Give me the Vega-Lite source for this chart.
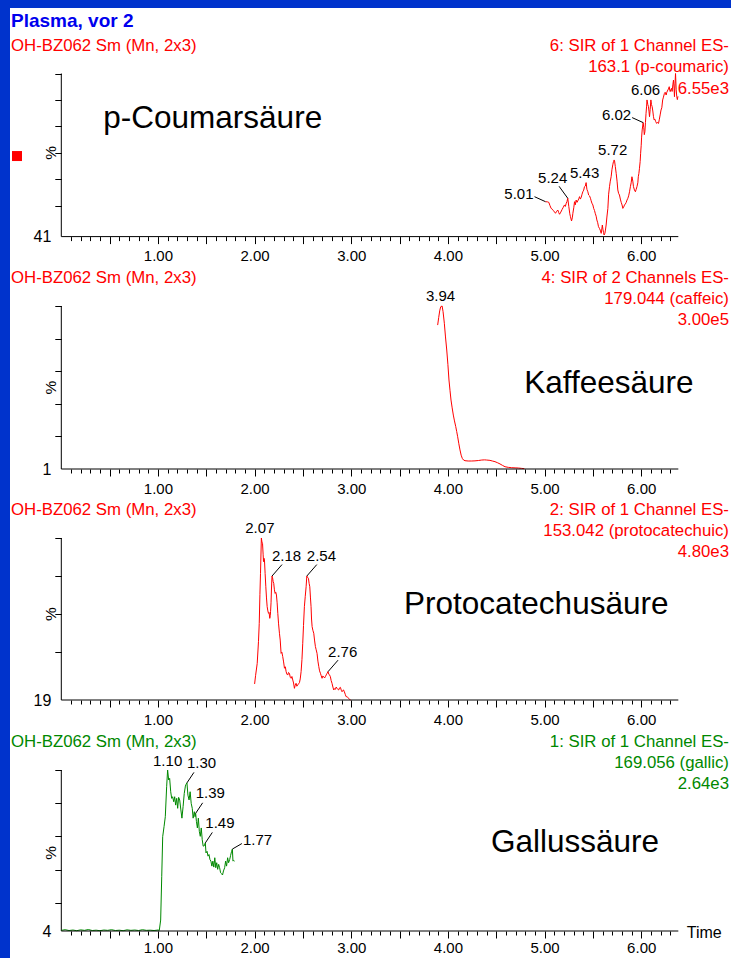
{
  "$schema": "https://vega.github.io/schema/vega-lite/v6.json",
  "background": "#0033cc",
  "padding": {"left": 10, "top": 8, "right": 0, "bottom": 0},
  "spacing": 0,
  "config": {
    "view": {"fill": "white", "stroke": null},
    "font": "Liberation Sans",
    "axis": {"labelFont": "Liberation Sans", "labelColor": "black", "tickColor": "black", "labelFontSize": 15, "tickWidth": 1}
  },
  "datasets": {
    "coumaric": [
      {"t":5.010,"v":21.4},{"t":5.030,"v":21.3},{"t":5.044,"v":21.0},{"t":5.056,"v":19.0},{"t":5.068,"v":17.3},{"t":5.080,"v":16.8},
      {"t":5.092,"v":15.9},{"t":5.104,"v":15.0},{"t":5.113,"v":14.3},{"t":5.125,"v":15.5},{"t":5.137,"v":16.3},{"t":5.146,"v":14.8},
      {"t":5.155,"v":13.7},{"t":5.168,"v":15.0},{"t":5.182,"v":16.7},{"t":5.194,"v":18.0},{"t":5.206,"v":19.4},{"t":5.215,"v":18.5},
      {"t":5.224,"v":20.4},{"t":5.232,"v":21.5},{"t":5.240,"v":23.5},{"t":5.251,"v":18.4},{"t":5.261,"v":14.0},{"t":5.268,"v":12.2},
      {"t":5.279,"v":9.6},{"t":5.287,"v":11.5},{"t":5.293,"v":14.3},{"t":5.303,"v":18.0},{"t":5.310,"v":21.4},{"t":5.318,"v":19.5},
      {"t":5.327,"v":22.4},{"t":5.336,"v":21.0},{"t":5.348,"v":22.4},{"t":5.356,"v":23.5},{"t":5.362,"v":24.5},{"t":5.370,"v":23.0},
      {"t":5.379,"v":24.0},{"t":5.388,"v":26.0},{"t":5.396,"v":27.5},{"t":5.405,"v":28.5},{"t":5.413,"v":30.6},{"t":5.422,"v":31.0},
      {"t":5.430,"v":33.1},{"t":5.438,"v":29.0},{"t":5.448,"v":27.5},{"t":5.456,"v":25.5},{"t":5.465,"v":25.0},{"t":5.475,"v":23.5},
      {"t":5.482,"v":22.0},{"t":5.490,"v":20.5},{"t":5.500,"v":19.4},{"t":5.508,"v":17.3},{"t":5.517,"v":16.0},{"t":5.524,"v":14.3},
      {"t":5.534,"v":12.5},{"t":5.541,"v":10.2},{"t":5.550,"v":8.5},{"t":5.558,"v":6.1},{"t":5.568,"v":5.0},{"t":5.576,"v":4.0},
      {"t":5.586,"v":2.0},{"t":5.591,"v":4.0},{"t":5.598,"v":7.1},{"t":5.604,"v":4.5},{"t":5.610,"v":2.5},{"t":5.616,"v":1.0},
      {"t":5.624,"v":2.0},{"t":5.630,"v":4.0},{"t":5.637,"v":7.1},{"t":5.645,"v":12.0},{"t":5.655,"v":17.3},{"t":5.663,"v":26.0},
      {"t":5.672,"v":30.6},{"t":5.680,"v":34.0},{"t":5.689,"v":36.7},{"t":5.697,"v":41.0},{"t":5.706,"v":44.0},{"t":5.713,"v":46.0},
      {"t":5.720,"v":47.0},{"t":5.724,"v":46.5},{"t":5.732,"v":43.0},{"t":5.741,"v":38.8},{"t":5.750,"v":34.0},{"t":5.758,"v":28.6},
      {"t":5.766,"v":26.5},{"t":5.775,"v":25.5},{"t":5.784,"v":23.0},{"t":5.793,"v":21.0},{"t":5.802,"v":19.4},{"t":5.810,"v":17.3},
      {"t":5.818,"v":18.0},{"t":5.827,"v":19.4},{"t":5.836,"v":20.0},{"t":5.845,"v":21.0},{"t":5.853,"v":22.4},{"t":5.862,"v":23.5},
      {"t":5.870,"v":25.0},{"t":5.879,"v":27.5},{"t":5.888,"v":30.6},{"t":5.896,"v":33.0},{"t":5.904,"v":36.7},{"t":5.913,"v":34.0},
      {"t":5.920,"v":30.6},{"t":5.930,"v":28.6},{"t":5.940,"v":27.5},{"t":5.948,"v":29.0},{"t":5.956,"v":30.6},{"t":5.965,"v":33.0},
      {"t":5.970,"v":36.7},{"t":5.976,"v":38.8},{"t":5.982,"v":41.9},{"t":5.989,"v":46.0},{"t":5.994,"v":51.1},{"t":6.000,"v":56.0},
      {"t":6.004,"v":61.0},{"t":6.010,"v":65.4},{"t":6.020,"v":69.9},{"t":6.026,"v":67.0},{"t":6.032,"v":62.5},{"t":6.038,"v":64.3},
      {"t":6.044,"v":70.0},{"t":6.050,"v":75.6},{"t":6.056,"v":80.0},{"t":6.060,"v":83.8},{"t":6.068,"v":81.0},{"t":6.075,"v":79.7},
      {"t":6.081,"v":76.5},{"t":6.086,"v":73.5},{"t":6.093,"v":78.0},{"t":6.100,"v":83.8},{"t":6.106,"v":81.0},{"t":6.113,"v":79.7},
      {"t":6.120,"v":77.0},{"t":6.127,"v":73.5},{"t":6.134,"v":71.5},{"t":6.141,"v":72.0},{"t":6.150,"v":70.5},{"t":6.160,"v":69.4},
      {"t":6.168,"v":70.0},{"t":6.179,"v":69.4},{"t":6.188,"v":72.0},{"t":6.196,"v":74.6},{"t":6.205,"v":77.6},{"t":6.213,"v":79.0},
      {"t":6.222,"v":83.8},{"t":6.230,"v":85.5},{"t":6.240,"v":87.8},{"t":6.248,"v":88.5},{"t":6.258,"v":86.8},{"t":6.265,"v":88.5},
      {"t":6.276,"v":89.9},{"t":6.282,"v":90.5},{"t":6.290,"v":91.9},{"t":6.296,"v":89.5},{"t":6.300,"v":88.9},{"t":6.306,"v":90.0},
      {"t":6.313,"v":90.9},{"t":6.320,"v":89.0},{"t":6.327,"v":93.0},{"t":6.334,"v":96.0},{"t":6.340,"v":91.0},{"t":6.344,"v":85.8},
      {"t":6.350,"v":94.0},{"t":6.355,"v":100.0},{"t":6.362,"v":90.0},{"t":6.368,"v":85.8},{"t":6.374,"v":84.0},{"t":6.380,"v":86.0}
    ],
    "caffeic": [
      {"t":3.894,"v":88.3},{"t":3.905,"v":93.0},{"t":3.915,"v":97.0},{"t":3.925,"v":99.5},{"t":3.940,"v":100.0},{"t":3.950,"v":96.5},
      {"t":3.963,"v":89.4},{"t":3.975,"v":81.0},{"t":3.988,"v":73.0},{"t":4.000,"v":64.0},{"t":4.011,"v":54.6},{"t":4.022,"v":48.0},
      {"t":4.032,"v":42.3},{"t":4.044,"v":37.5},{"t":4.056,"v":33.1},{"t":4.068,"v":29.5},{"t":4.081,"v":26.0},{"t":4.091,"v":23.0},
      {"t":4.101,"v":19.8},{"t":4.113,"v":15.5},{"t":4.125,"v":11.7},{"t":4.137,"v":8.5},{"t":4.149,"v":6.5},{"t":4.162,"v":5.5},
      {"t":4.177,"v":5.1},{"t":4.210,"v":4.9},{"t":4.246,"v":4.9},{"t":4.280,"v":5.0},{"t":4.315,"v":5.2},{"t":4.350,"v":5.5},
      {"t":4.380,"v":5.6},{"t":4.401,"v":5.5},{"t":4.435,"v":5.3},{"t":4.460,"v":4.9},{"t":4.487,"v":4.5},{"t":4.515,"v":3.8},
      {"t":4.539,"v":3.1},{"t":4.565,"v":2.2},{"t":4.591,"v":1.4},{"t":4.625,"v":1.0},{"t":4.660,"v":0.8},{"t":4.695,"v":0.7},
      {"t":4.729,"v":0.6},{"t":4.760,"v":0.4},{"t":4.791,"v":0.2}
    ],
    "protocatechuic": [
      {"t":2.000,"v":9.9},{"t":2.010,"v":15.0},{"t":2.027,"v":22.6},{"t":2.040,"v":36.0},{"t":2.048,"v":47.3},{"t":2.055,"v":65.0},
      {"t":2.061,"v":78.2},{"t":2.070,"v":100.0},{"t":2.076,"v":97.5},{"t":2.082,"v":96.7},{"t":2.088,"v":90.0},{"t":2.092,"v":85.4},
      {"t":2.097,"v":87.5},{"t":2.102,"v":86.4},{"t":2.109,"v":78.0},{"t":2.116,"v":69.9},{"t":2.123,"v":63.0},{"t":2.130,"v":57.6},
      {"t":2.137,"v":55.0},{"t":2.144,"v":53.5},{"t":2.150,"v":54.0},{"t":2.157,"v":50.4},{"t":2.162,"v":52.0},{"t":2.165,"v":54.5},
      {"t":2.170,"v":60.0},{"t":2.174,"v":67.9},{"t":2.180,"v":76.5},{"t":2.186,"v":75.5},{"t":2.192,"v":73.0},{"t":2.198,"v":72.0},
      {"t":2.205,"v":68.0},{"t":2.212,"v":65.8},{"t":2.219,"v":66.5},{"t":2.226,"v":64.8},{"t":2.233,"v":60.0},{"t":2.240,"v":53.5},
      {"t":2.248,"v":47.0},{"t":2.257,"v":41.2},{"t":2.265,"v":37.0},{"t":2.274,"v":28.8},{"t":2.282,"v":29.5},{"t":2.291,"v":26.8},
      {"t":2.300,"v":23.5},{"t":2.309,"v":19.6},{"t":2.318,"v":20.5},{"t":2.326,"v":17.5},{"t":2.334,"v":16.0},{"t":2.343,"v":15.4},
      {"t":2.351,"v":17.0},{"t":2.360,"v":16.5},{"t":2.369,"v":14.0},{"t":2.378,"v":13.4},{"t":2.386,"v":14.5},{"t":2.395,"v":12.3},
      {"t":2.403,"v":10.5},{"t":2.412,"v":7.2},{"t":2.420,"v":9.0},{"t":2.429,"v":10.3},{"t":2.437,"v":8.5},{"t":2.446,"v":9.3},
      {"t":2.455,"v":10.0},{"t":2.464,"v":10.7},{"t":2.472,"v":13.0},{"t":2.481,"v":17.5},{"t":2.490,"v":25.0},{"t":2.498,"v":35.0},
      {"t":2.506,"v":46.0},{"t":2.515,"v":57.6},{"t":2.524,"v":64.0},{"t":2.533,"v":69.9},{"t":2.540,"v":76.5},{"t":2.547,"v":75.8},
      {"t":2.557,"v":75.1},{"t":2.564,"v":72.0},{"t":2.571,"v":69.9},{"t":2.578,"v":63.0},{"t":2.584,"v":57.6},{"t":2.589,"v":50.0},
      {"t":2.595,"v":45.3},{"t":2.603,"v":43.0},{"t":2.612,"v":41.2},{"t":2.620,"v":37.0},{"t":2.629,"v":33.0},{"t":2.637,"v":31.0},
      {"t":2.646,"v":28.8},{"t":2.655,"v":24.0},{"t":2.664,"v":20.6},{"t":2.672,"v":18.0},{"t":2.681,"v":16.5},{"t":2.689,"v":15.0},
      {"t":2.698,"v":13.4},{"t":2.706,"v":14.8},{"t":2.715,"v":14.4},{"t":2.724,"v":13.6},{"t":2.732,"v":14.4},{"t":2.741,"v":15.5},
      {"t":2.750,"v":16.5},{"t":2.760,"v":17.5},{"t":2.767,"v":16.0},{"t":2.775,"v":15.5},{"t":2.784,"v":14.4},{"t":2.792,"v":12.0},
      {"t":2.801,"v":10.3},{"t":2.810,"v":8.0},{"t":2.819,"v":6.2},{"t":2.827,"v":7.0},{"t":2.836,"v":6.6},{"t":2.844,"v":8.0},
      {"t":2.853,"v":7.2},{"t":2.862,"v":6.5},{"t":2.870,"v":6.2},{"t":2.879,"v":7.5},{"t":2.888,"v":7.8},{"t":2.897,"v":6.0},
      {"t":2.905,"v":5.1},{"t":2.914,"v":6.0},{"t":2.920,"v":6.2},{"t":2.929,"v":5.0},{"t":2.938,"v":3.5},{"t":2.946,"v":2.1},
      {"t":2.955,"v":2.0},{"t":2.964,"v":1.6},{"t":2.975,"v":1.0},{"t":2.985,"v":0.2},{"t":2.993,"v":0.0}
    ],
    "gallic": [
      {"t":0.00,"v":0.4},{"t":0.04,"v":0.8},{"t":0.08,"v":0.3},{"t":0.12,"v":0.6},{"t":0.16,"v":0.2},{"t":0.20,"v":0.7},
      {"t":0.24,"v":0.4},{"t":0.28,"v":0.9},{"t":0.32,"v":0.3},{"t":0.36,"v":0.5},{"t":0.40,"v":0.2},{"t":0.44,"v":0.6},
      {"t":0.48,"v":0.4},{"t":0.52,"v":0.8},{"t":0.56,"v":0.3},{"t":0.60,"v":0.5},{"t":0.64,"v":0.2},{"t":0.68,"v":0.7},
      {"t":0.72,"v":0.4},{"t":0.76,"v":0.6},{"t":0.80,"v":0.3},{"t":0.84,"v":0.8},{"t":0.88,"v":0.4},{"t":0.92,"v":0.5},
      {"t":0.96,"v":0.3},{"t":1.000,"v":0.6},{"t":1.014,"v":0.4},
      {"t":1.028,"v":6.8},{"t":1.039,"v":33.7},{"t":1.049,"v":58.6},{"t":1.063,"v":64.8},{"t":1.076,"v":71.0},{"t":1.090,"v":89.6},
      {"t":1.100,"v":100.0},{"t":1.111,"v":93.8},{"t":1.121,"v":94.8},{"t":1.132,"v":86.5},{"t":1.142,"v":82.4},{"t":1.152,"v":83.4},
      {"t":1.163,"v":80.3},{"t":1.173,"v":83.4},{"t":1.183,"v":78.2},{"t":1.194,"v":82.4},{"t":1.204,"v":76.2},{"t":1.214,"v":83.0},
      {"t":1.225,"v":81.4},{"t":1.237,"v":75.2},{"t":1.248,"v":70.1},{"t":1.260,"v":77.2},{"t":1.272,"v":85.4},{"t":1.284,"v":90.0},
      {"t":1.290,"v":91.0},{"t":1.300,"v":92.0},{"t":1.310,"v":84.4},{"t":1.322,"v":81.4},{"t":1.333,"v":86.5},{"t":1.344,"v":79.3},
      {"t":1.355,"v":76.2},{"t":1.364,"v":70.1},{"t":1.376,"v":74.1},{"t":1.384,"v":71.0},{"t":1.390,"v":73.1},{"t":1.398,"v":68.1},
      {"t":1.408,"v":64.0},{"t":1.418,"v":70.1},{"t":1.428,"v":61.9},{"t":1.438,"v":58.8},{"t":1.448,"v":64.0},{"t":1.458,"v":56.7},
      {"t":1.468,"v":52.7},{"t":1.480,"v":53.0},{"t":1.490,"v":54.7},{"t":1.497,"v":48.5},{"t":1.508,"v":49.5},{"t":1.518,"v":46.5},
      {"t":1.528,"v":47.5},{"t":1.538,"v":44.4},{"t":1.548,"v":43.4},{"t":1.558,"v":40.3},{"t":1.568,"v":43.4},{"t":1.578,"v":39.7},
      {"t":1.588,"v":45.5},{"t":1.598,"v":39.3},{"t":1.608,"v":42.4},{"t":1.618,"v":38.3},{"t":1.628,"v":41.4},{"t":1.638,"v":39.3},
      {"t":1.648,"v":36.2},{"t":1.658,"v":35.6},{"t":1.668,"v":34.8},{"t":1.678,"v":37.3},{"t":1.690,"v":39.3},{"t":1.700,"v":43.4},
      {"t":1.710,"v":40.3},{"t":1.721,"v":45.5},{"t":1.731,"v":42.4},{"t":1.742,"v":44.4},{"t":1.752,"v":47.0},{"t":1.762,"v":49.5},
      {"t":1.770,"v":50.9},{"t":1.776,"v":43.4},{"t":1.783,"v":43.8},{"t":1.793,"v":43.4}
    ],
    "peaks": [
      {"panel":1,"t":5.01,"v":21.4,"kind":"w"},
      {"panel":1,"t":5.24,"v":23.5,"kind":"nw"},
      {"panel":1,"t":5.43,"v":33.1,"kind":"top"},
      {"panel":1,"t":5.72,"v":47.0,"kind":"top"},
      {"panel":1,"t":6.02,"v":69.9,"kind":"w"},
      {"panel":1,"t":6.06,"v":83.8,"kind":"top"},
      {"panel":2,"t":3.94,"v":100.0,"kind":"top"},
      {"panel":3,"t":2.07,"v":100.0,"kind":"top"},
      {"panel":3,"t":2.18,"v":76.5,"kind":"ne"},
      {"panel":3,"t":2.54,"v":76.5,"kind":"ne"},
      {"panel":3,"t":2.76,"v":17.5,"kind":"ne"},
      {"panel":4,"t":1.10,"v":100.0,"kind":"top"},
      {"panel":4,"t":1.30,"v":92.0,"kind":"ne"},
      {"panel":4,"t":1.39,"v":73.1,"kind":"ne"},
      {"panel":4,"t":1.49,"v":54.7,"kind":"ne"},
      {"panel":4,"t":1.77,"v":50.9,"kind":"e"}
    ]
  },
  "vconcat": [
    {
      "width": 721, "height": 257,
      "resolve": {"axis": {"x": "independent"}},
      "layer": [
        {
          "layer": [
            {
              "data": {"values": [{}]},
              "mark": {"type": "rule", "color": "black", "strokeWidth": 1},
              "encoding": {
                "x": {"datum": 0, "type": "quantitative",
                  "scale": {"domain": [-0.5308, 6.929], "nice": false, "zero": false},
                  "axis": {"orient": "bottom", "offset": -28.4, "domain": false, "grid": false, "title": null,
                    "values": [0.5,1,1.5,2,2.5,3,3.5,4,4.5,5,5.5,6],
                    "tickSize": 7,
                    "labelExpr": "datum.value % 1 == 0 ? format(datum.value, '.2f') : ''",
                    "labelPadding": 5.2, "labelOverlap": false, "labelFlush": false}},
                "y": {"datum": 0, "type": "quantitative",
                  "scale": {"domain": [-17.41, 140.16], "nice": false, "zero": false},
                  "axis": {"orient": "left", "offset": -51.3, "domain": false, "grid": false, "title": null,
                    "values": [0, 19.0, 35.2, 51.4, 67.6, 83.8, 100],
                    "tickSize": 6.5,
                    "tickColor": {"condition": {"test": "datum.value == 0", "value": "transparent"}, "value": "black"},
                    "labelExpr": "datum.value == 0 ? '41' : ''", "labelFontSize": 16,
                    "labelPadding": 4, "labelOverlap": false, "labelFlush": false, "labelBaseline": "middle"}},
                "y2": {"datum": 100}
              }
            },
            {
              "data": {"name": "coumaric"},
              "mark": {"type": "line", "color": "#ff0000", "strokeWidth": 1},
              "encoding": {"x": {"field": "t", "type": "quantitative"}, "y": {"field": "v", "type": "quantitative"}}
            },
            {
              "data": {"name": "peaks"},
              "transform": [{"filter": "datum.panel == 1 && datum.kind == 'top'"}],
              "mark": {"type": "text", "align": "center", "baseline": "alphabetic", "dx": -1.5, "dy": -4.5, "fontSize": 15, "color": "black"},
              "encoding": {"x": {"field": "t", "type": "quantitative"}, "y": {"field": "v", "type": "quantitative"}, "text": {"field": "t", "type": "quantitative", "format": ".2f"}}
            },
            {
              "data": {"name": "peaks"},
              "transform": [{"filter": "datum.panel == 1 && datum.kind == 'w'"}],
              "mark": {"type": "text", "align": "right", "baseline": "alphabetic", "dx": -12, "dy": -3, "fontSize": 15, "color": "black"},
              "encoding": {"x": {"field": "t", "type": "quantitative"}, "y": {"field": "v", "type": "quantitative"}, "text": {"field": "t", "type": "quantitative", "format": ".2f"}}
            },
            {
              "data": {"name": "peaks"},
              "transform": [{"filter": "datum.panel == 1 && datum.kind == 'w'"}],
              "mark": {"type": "rule", "color": "black", "strokeWidth": 1, "x2Offset": -11, "y2Offset": -5},
              "encoding": {"x": {"field": "t", "type": "quantitative"}, "y": {"field": "v", "type": "quantitative"}, "x2": {"field": "t"}, "y2": {"field": "v"}}
            },
            {
              "data": {"name": "peaks"},
              "transform": [{"filter": "datum.panel == 1 && datum.kind == 'nw'"}],
              "mark": {"type": "text", "align": "right", "baseline": "alphabetic", "dx": -0.5, "dy": -15, "fontSize": 15, "color": "black"},
              "encoding": {"x": {"field": "t", "type": "quantitative"}, "y": {"field": "v", "type": "quantitative"}, "text": {"field": "t", "type": "quantitative", "format": ".2f"}}
            },
            {
              "data": {"name": "peaks"},
              "transform": [{"filter": "datum.panel == 1 && datum.kind == 'nw'"}],
              "mark": {"type": "rule", "color": "black", "strokeWidth": 1, "x2Offset": -8.7, "y2Offset": -12},
              "encoding": {"x": {"field": "t", "type": "quantitative"}, "y": {"field": "v", "type": "quantitative"}, "x2": {"field": "t"}, "y2": {"field": "v"}}
            },
            {
              "data": {"values": [{"s": "Plasma, vor 2"}]},
              "mark": {"type": "text", "align": "left", "baseline": "alphabetic", "fontSize": 19, "fontWeight": "bold", "color": "#0000ee"},
              "encoding": {"x": {"datum": -0.5204}, "y": {"datum": 128.7}, "text": {"field": "s"}}
            },
            {
              "data": {"values": [{"s": "OH-BZ062 Sm (Mn, 2x3)"}]},
              "mark": {"type": "text", "align": "left", "baseline": "alphabetic", "fontSize": 16.8, "color": "#ff0000"},
              "encoding": {"x": {"datum": -0.5204}, "y": {"datum": 114.1}, "text": {"field": "s"}}
            },
            {
              "data": {"values": [{"s": "6: SIR of 1 Channel ES-\u00a0\n163.1 (p-coumaric)\n6.55e3"}]},
              "mark": {"type": "text", "align": "right", "baseline": "alphabetic", "lineBreak": "\n", "lineHeight": 21.5, "fontSize": 16.8, "color": "#ff0000"},
              "encoding": {"x": {"datum": 6.908}, "y": {"datum": 114.1}, "text": {"field": "s"}}
            },
            {
              "data": {"values": [{"s": "p-Coumarsäure"}]},
              "mark": {"type": "text", "align": "left", "baseline": "alphabetic", "fontSize": 31.5, "color": "black"},
              "encoding": {"x": {"datum": 0.4346}, "y": {"datum": 66.4}, "text": {"field": "s"}}
            },
            {
              "data": {"values": [{"s": "%"}]},
              "mark": {"type": "text", "align": "center", "baseline": "middle", "angle": 270, "fontSize": 15.5, "color": "black"},
              "encoding": {"x": {"datum": -0.1117}, "y": {"datum": 51.4}, "text": {"field": "s"}}
            },
            {
              "data": {"values": [{}]},
              "mark": {"type": "point", "shape": "square", "filled": true, "size": 100, "color": "#ff0000", "opacity": 1},
              "encoding": {"x": {"datum": -0.4584}, "y": {"datum": 49.4}}
            }
          ]
        },
        {
          "data": {"values": [{}]},
          "mark": {"type": "rule", "color": "black", "strokeWidth": 1},
          "encoding": {
            "x": {"datum": 0, "type": "quantitative",
              "axis": {"orient": "bottom", "offset": -28.4, "domain": false, "grid": false, "title": null, "labels": false, "tickSize": 4,
                "values": [0.1,0.2,0.3,0.4,0.6,0.7,0.8,0.9,1.1,1.2,1.3,1.4,1.6,1.7,1.8,1.9,2.1,2.2,2.3,2.4,2.6,2.7,2.8,2.9,3.1,3.2,3.3,3.4,3.6,3.7,3.8,3.9,4.1,4.2,4.3,4.4,4.6,4.7,4.8,4.9,5.1,5.2,5.3,5.4,5.6,5.7,5.8,5.9,6.1,6.2,6.3]}},
            "x2": {"datum": 6.384},
            "y": {"datum": 0, "type": "quantitative"}
          }
        }
      ]
    },
    {
      "width": 721, "height": 233,
      "resolve": {"axis": {"x": "independent"}},
      "layer": [
        {
          "layer": [
            {
              "data": {"values": [{}]},
              "mark": {"type": "rule", "color": "black", "strokeWidth": 1},
              "encoding": {
                "x": {"datum": 0, "type": "quantitative",
                  "scale": {"domain": [-0.5308, 6.929], "nice": false, "zero": false},
                  "axis": {"orient": "bottom", "offset": -29, "domain": false, "grid": false, "title": null,
                    "values": [0.5,1,1.5,2,2.5,3,3.5,4,4.5,5,5.5,6],
                    "tickSize": 7,
                    "labelExpr": "datum.value % 1 == 0 ? format(datum.value, '.2f') : ''",
                    "labelPadding": 5.2, "labelOverlap": false, "labelFlush": false}},
                "y": {"datum": 0, "type": "quantitative",
                  "scale": {"domain": [-17.79, 125.15], "nice": false, "zero": false},
                  "axis": {"orient": "left", "offset": -51.3, "domain": false, "grid": false, "title": null,
                    "values": [0, 10, 20, 30, 40, 50, 60, 70, 80, 90, 100],
                    "tickSize": 6.5,
                    "tickColor": {"condition": {"test": "datum.value == 0", "value": "transparent"}, "value": "black"},
                    "labelExpr": "datum.value == 0 ? '1' : ''", "labelFontSize": 16,
                    "labelPadding": 4, "labelOverlap": false, "labelFlush": false, "labelBaseline": "middle"}},
                "y2": {"datum": 100}
              }
            },
            {
              "data": {"name": "caffeic"},
              "mark": {"type": "line", "color": "#ff0000", "strokeWidth": 1},
              "encoding": {"x": {"field": "t", "type": "quantitative"}, "y": {"field": "v", "type": "quantitative"}}
            },
            {
              "data": {"name": "peaks"},
              "transform": [{"filter": "datum.panel == 2 && datum.kind == 'top'"}],
              "mark": {"type": "text", "align": "center", "baseline": "alphabetic", "dx": -1.5, "dy": -4.5, "fontSize": 15, "color": "black"},
              "encoding": {"x": {"field": "t", "type": "quantitative"}, "y": {"field": "v", "type": "quantitative"}, "text": {"field": "t", "type": "quantitative", "format": ".2f"}}
            },
            {
              "data": {"values": [{"s": "OH-BZ062 Sm (Mn, 2x3)"}]},
              "mark": {"type": "text", "align": "left", "baseline": "alphabetic", "fontSize": 16.8, "color": "#ff0000"},
              "encoding": {"x": {"datum": -0.5204}, "y": {"datum": 114.4}, "text": {"field": "s"}}
            },
            {
              "data": {"values": [{"s": "4: SIR of 2 Channels ES-\u00a0\n179.044 (caffeic)\n3.00e5"}]},
              "mark": {"type": "text", "align": "right", "baseline": "alphabetic", "lineBreak": "\n", "lineHeight": 21, "fontSize": 16.8, "color": "#ff0000"},
              "encoding": {"x": {"datum": 6.908}, "y": {"datum": 114.4}, "text": {"field": "s"}}
            },
            {
              "data": {"values": [{"s": "Kaffeesäure"}]},
              "mark": {"type": "text", "align": "left", "baseline": "alphabetic", "fontSize": 31.5, "color": "black"},
              "encoding": {"x": {"datum": 4.79}, "y": {"datum": 46.8}, "text": {"field": "s"}}
            },
            {
              "data": {"values": [{"s": "%"}]},
              "mark": {"type": "text", "align": "center", "baseline": "middle", "angle": 270, "fontSize": 15.5, "color": "black"},
              "encoding": {"x": {"datum": -0.1117}, "y": {"datum": 50}, "text": {"field": "s"}}
            }
          ]
        },
        {
          "data": {"values": [{}]},
          "mark": {"type": "rule", "color": "black", "strokeWidth": 1},
          "encoding": {
            "x": {"datum": 0, "type": "quantitative",
              "axis": {"orient": "bottom", "offset": -29, "domain": false, "grid": false, "title": null, "labels": false, "tickSize": 4,
                "values": [0.1,0.2,0.3,0.4,0.6,0.7,0.8,0.9,1.1,1.2,1.3,1.4,1.6,1.7,1.8,1.9,2.1,2.2,2.3,2.4,2.6,2.7,2.8,2.9,3.1,3.2,3.3,3.4,3.6,3.7,3.8,3.9,4.1,4.2,4.3,4.4,4.6,4.7,4.8,4.9,5.1,5.2,5.3,5.4,5.6,5.7,5.8,5.9,6.1,6.2,6.3]}},
            "x2": {"datum": 6.384},
            "y": {"datum": 0, "type": "quantitative"}
          }
        }
      ]
    },
    {
      "width": 721, "height": 231,
      "resolve": {"axis": {"x": "independent"}},
      "layer": [
        {
          "layer": [
            {
              "data": {"values": [{}]},
              "mark": {"type": "rule", "color": "black", "strokeWidth": 1},
              "encoding": {
                "x": {"datum": 0, "type": "quantitative",
                  "scale": {"domain": [-0.5308, 6.929], "nice": false, "zero": false},
                  "axis": {"orient": "bottom", "offset": -29, "domain": false, "grid": false, "title": null,
                    "values": [0.5,1,1.5,2,2.5,3,3.5,4,4.5,5,5.5,6],
                    "tickSize": 7,
                    "labelExpr": "datum.value % 1 == 0 ? format(datum.value, '.2f') : ''",
                    "labelPadding": 5.2, "labelOverlap": false, "labelFlush": false}},
                "y": {"datum": 0, "type": "quantitative",
                  "scale": {"domain": [-17.90, 124.69], "nice": false, "zero": false},
                  "axis": {"orient": "left", "offset": -51.3, "domain": false, "grid": false, "title": null,
                    "values": [0, 17.75, 29.5, 41.25, 53, 64.75, 76.5, 88.25, 100],
                    "tickSize": 6.5,
                    "tickColor": {"condition": {"test": "datum.value == 0", "value": "transparent"}, "value": "black"},
                    "labelExpr": "datum.value == 0 ? '19' : ''", "labelFontSize": 16,
                    "labelPadding": 4, "labelOverlap": false, "labelFlush": false, "labelBaseline": "middle"}},
                "y2": {"datum": 100}
              }
            },
            {
              "data": {"name": "protocatechuic"},
              "mark": {"type": "line", "color": "#ff0000", "strokeWidth": 1},
              "encoding": {"x": {"field": "t", "type": "quantitative"}, "y": {"field": "v", "type": "quantitative"}}
            },
            {
              "data": {"name": "peaks"},
              "transform": [{"filter": "datum.panel == 3 && datum.kind == 'top'"}],
              "mark": {"type": "text", "align": "center", "baseline": "alphabetic", "dx": -1.5, "dy": -4.5, "fontSize": 15, "color": "black"},
              "encoding": {"x": {"field": "t", "type": "quantitative"}, "y": {"field": "v", "type": "quantitative"}, "text": {"field": "t", "type": "quantitative", "format": ".2f"}}
            },
            {
              "data": {"name": "peaks"},
              "transform": [{"filter": "datum.panel == 3 && datum.kind == 'ne'"}],
              "mark": {"type": "text", "align": "left", "baseline": "alphabetic", "dx": 0, "dy": -15, "fontSize": 15, "color": "black"},
              "encoding": {"x": {"field": "t", "type": "quantitative"}, "y": {"field": "v", "type": "quantitative"}, "text": {"field": "t", "type": "quantitative", "format": ".2f"}}
            },
            {
              "data": {"name": "peaks"},
              "transform": [{"filter": "datum.panel == 3 && datum.kind == 'ne'"}],
              "mark": {"type": "rule", "color": "black", "strokeWidth": 1, "x2Offset": 10, "y2Offset": -11.5},
              "encoding": {"x": {"field": "t", "type": "quantitative"}, "y": {"field": "v", "type": "quantitative"}, "x2": {"field": "t"}, "y2": {"field": "v"}}
            },
            {
              "data": {"values": [{"s": "OH-BZ062 Sm (Mn, 2x3)"}]},
              "mark": {"type": "text", "align": "left", "baseline": "alphabetic", "fontSize": 16.8, "color": "#ff0000"},
              "encoding": {"x": {"datum": -0.5204}, "y": {"datum": 114.2}, "text": {"field": "s"}}
            },
            {
              "data": {"values": [{"s": "2: SIR of 1 Channel ES-\u00a0\n153.042 (protocatechuic)\n4.80e3"}]},
              "mark": {"type": "text", "align": "right", "baseline": "alphabetic", "lineBreak": "\n", "lineHeight": 21, "fontSize": 16.8, "color": "#ff0000"},
              "encoding": {"x": {"datum": 6.908}, "y": {"datum": 114.2}, "text": {"field": "s"}}
            },
            {
              "data": {"values": [{"s": "Protocatechusäure"}]},
              "mark": {"type": "text", "align": "left", "baseline": "alphabetic", "fontSize": 31.5, "color": "black"},
              "encoding": {"x": {"datum": 3.546}, "y": {"datum": 53.1}, "text": {"field": "s"}}
            },
            {
              "data": {"values": [{"s": "%"}]},
              "mark": {"type": "text", "align": "center", "baseline": "middle", "angle": 270, "fontSize": 15.5, "color": "black"},
              "encoding": {"x": {"datum": -0.1117}, "y": {"datum": 53}, "text": {"field": "s"}}
            }
          ]
        },
        {
          "data": {"values": [{}]},
          "mark": {"type": "rule", "color": "black", "strokeWidth": 1},
          "encoding": {
            "x": {"datum": 0, "type": "quantitative",
              "axis": {"orient": "bottom", "offset": -29, "domain": false, "grid": false, "title": null, "labels": false, "tickSize": 4,
                "values": [0.1,0.2,0.3,0.4,0.6,0.7,0.8,0.9,1.1,1.2,1.3,1.4,1.6,1.7,1.8,1.9,2.1,2.2,2.3,2.4,2.6,2.7,2.8,2.9,3.1,3.2,3.3,3.4,3.6,3.7,3.8,3.9,4.1,4.2,4.3,4.4,4.6,4.7,4.8,4.9,5.1,5.2,5.3,5.4,5.6,5.7,5.8,5.9,6.1,6.2,6.3]}},
            "x2": {"datum": 6.384},
            "y": {"datum": 0, "type": "quantitative"}
          }
        }
      ]
    },
    {
      "width": 721, "height": 229,
      "resolve": {"axis": {"x": "independent"}},
      "layer": [
        {
          "layer": [
            {
              "data": {"values": [{}]},
              "mark": {"type": "rule", "color": "black", "strokeWidth": 1},
              "encoding": {
                "x": {"datum": 0, "type": "quantitative",
                  "scale": {"domain": [-0.5308, 6.929], "nice": false, "zero": false},
                  "axis": {"orient": "bottom", "offset": -27, "domain": false, "grid": false, "title": null,
                    "values": [0.5,1,1.5,2,2.5,3,3.5,4,4.5,5,5.5,6],
                    "tickSize": 7,
                    "labelExpr": "datum.value % 1 == 0 ? format(datum.value, '.2f') : ''",
                    "labelPadding": 2.6, "labelOverlap": false, "labelFlush": false}},
                "y": {"datum": 0, "type": "quantitative",
                  "scale": {"domain": [-16.77, 125.47], "nice": false, "zero": false},
                  "axis": {"orient": "left", "offset": -51.3, "domain": false, "grid": false, "title": null,
                    "values": [0, 7.3, 17.6, 27.9, 38.2, 48.5, 58.8, 69.1, 79.4, 89.7, 100],
                    "tickSize": 6.5,
                    "tickColor": {"condition": {"test": "datum.value == 0", "value": "transparent"}, "value": "black"},
                    "labelExpr": "datum.value == 0 ? '4' : ''", "labelFontSize": 16,
                    "labelPadding": 4, "labelOverlap": false, "labelFlush": false, "labelBaseline": "middle"}},
                "y2": {"datum": 100}
              }
            },
            {
              "data": {"name": "gallic"},
              "mark": {"type": "line", "color": "#008800", "strokeWidth": 1},
              "encoding": {"x": {"field": "t", "type": "quantitative"}, "y": {"field": "v", "type": "quantitative"}}
            },
            {
              "data": {"name": "peaks"},
              "transform": [{"filter": "datum.panel == 4 && datum.kind == 'top'"}],
              "mark": {"type": "text", "align": "center", "baseline": "alphabetic", "dx": 0, "dy": -4.5, "fontSize": 15, "color": "black"},
              "encoding": {"x": {"field": "t", "type": "quantitative"}, "y": {"field": "v", "type": "quantitative"}, "text": {"field": "t", "type": "quantitative", "format": ".2f"}}
            },
            {
              "data": {"name": "peaks"},
              "transform": [{"filter": "datum.panel == 4 && datum.kind == 'ne'"}],
              "mark": {"type": "text", "align": "left", "baseline": "alphabetic", "dx": 0, "dy": -15, "fontSize": 15, "color": "black"},
              "encoding": {"x": {"field": "t", "type": "quantitative"}, "y": {"field": "v", "type": "quantitative"}, "text": {"field": "t", "type": "quantitative", "format": ".2f"}}
            },
            {
              "data": {"name": "peaks"},
              "transform": [{"filter": "datum.panel == 4 && datum.kind == 'ne'"}],
              "mark": {"type": "rule", "color": "black", "strokeWidth": 1, "x2Offset": 7, "y2Offset": -10.5},
              "encoding": {"x": {"field": "t", "type": "quantitative"}, "y": {"field": "v", "type": "quantitative"}, "x2": {"field": "t"}, "y2": {"field": "v"}}
            },
            {
              "data": {"name": "peaks"},
              "transform": [{"filter": "datum.panel == 4 && datum.kind == 'e'"}],
              "mark": {"type": "text", "align": "left", "baseline": "alphabetic", "dx": 10.5, "dy": -4, "fontSize": 15, "color": "black"},
              "encoding": {"x": {"field": "t", "type": "quantitative"}, "y": {"field": "v", "type": "quantitative"}, "text": {"field": "t", "type": "quantitative", "format": ".2f"}}
            },
            {
              "data": {"name": "peaks"},
              "transform": [{"filter": "datum.panel == 4 && datum.kind == 'e'"}],
              "mark": {"type": "rule", "color": "black", "strokeWidth": 1, "x2Offset": 9.5, "y2Offset": -5.5},
              "encoding": {"x": {"field": "t", "type": "quantitative"}, "y": {"field": "v", "type": "quantitative"}, "x2": {"field": "t"}, "y2": {"field": "v"}}
            },
            {
              "data": {"values": [{"s": "OH-BZ062 Sm (Mn, 2x3)"}]},
              "mark": {"type": "text", "align": "left", "baseline": "alphabetic", "fontSize": 16.8, "color": "#008800"},
              "encoding": {"x": {"datum": -0.5204}, "y": {"datum": 114.6}, "text": {"field": "s"}}
            },
            {
              "data": {"values": [{"s": "1: SIR of 1 Channel ES-\u00a0\n169.056 (gallic)\n2.64e3"}]},
              "mark": {"type": "text", "align": "right", "baseline": "alphabetic", "lineBreak": "\n", "lineHeight": 21, "fontSize": 16.8, "color": "#008800"},
              "encoding": {"x": {"datum": 6.908}, "y": {"datum": 114.6}, "text": {"field": "s"}}
            },
            {
              "data": {"values": [{"s": "Gallussäure"}]},
              "mark": {"type": "text", "align": "left", "baseline": "alphabetic", "fontSize": 31.5, "color": "black"},
              "encoding": {"x": {"datum": 4.446}, "y": {"datum": 49.3}, "text": {"field": "s"}}
            },
            {
              "data": {"values": [{"s": "%"}]},
              "mark": {"type": "text", "align": "center", "baseline": "middle", "angle": 270, "fontSize": 15.5, "color": "black"},
              "encoding": {"x": {"datum": -0.1117}, "y": {"datum": 48.5}, "text": {"field": "s"}}
            },
            {
              "data": {"values": [{"s": "Time"}]},
              "mark": {"type": "text", "align": "left", "baseline": "middle", "fontSize": 16, "color": "black"},
              "encoding": {"x": {"datum": 6.471}, "y": {"datum": -1}, "text": {"field": "s"}}
            }
          ]
        },
        {
          "data": {"values": [{}]},
          "mark": {"type": "rule", "color": "black", "strokeWidth": 1},
          "encoding": {
            "x": {"datum": 0, "type": "quantitative",
              "axis": {"orient": "bottom", "offset": -27, "domain": false, "grid": false, "title": null, "labels": false, "tickSize": 4,
                "values": [0.1,0.2,0.3,0.4,0.6,0.7,0.8,0.9,1.1,1.2,1.3,1.4,1.6,1.7,1.8,1.9,2.1,2.2,2.3,2.4,2.6,2.7,2.8,2.9,3.1,3.2,3.3,3.4,3.6,3.7,3.8,3.9,4.1,4.2,4.3,4.4,4.6,4.7,4.8,4.9,5.1,5.2,5.3,5.4,5.6,5.7,5.8,5.9,6.1,6.2,6.3]}},
            "x2": {"datum": 6.384},
            "y": {"datum": 0, "type": "quantitative"}
          }
        }
      ]
    }
  ]
}
